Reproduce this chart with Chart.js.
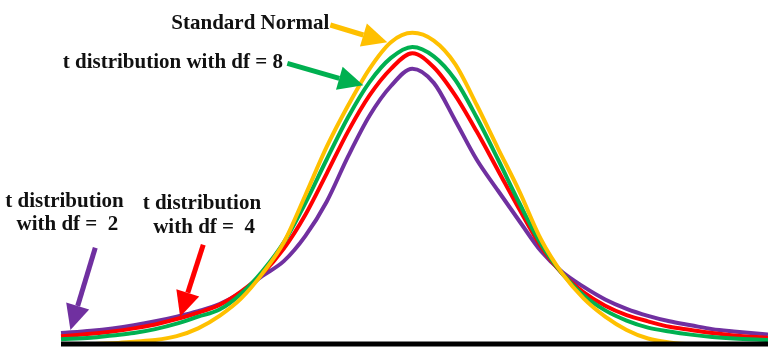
<!DOCTYPE html>
<html>
<head>
<meta charset="utf-8">
<script src="https://cdn.jsdelivr.net/npm/chart.js@4"></script>
<style>
  html, body { margin: 0; padding: 0; background: #fff; }
  #wrap { width: 768px; height: 355px; position: relative; }
</style>
</head>
<body>
<div id="wrap"><canvas id="tChart"></canvas></div>
<script>
// t values shared by all curves
const tValues = [-4.10, -3.75, -3.50, -3.25, -3.00, -2.75, -2.50, -2.25, -2.00, -1.75, -1.50, -1.25, -1.00, -0.75, -0.50, -0.25, 0,
  0.25, 0.50, 0.75, 1.00, 1.25, 1.50, 1.75, 2.00, 2.25, 2.50, 2.75, 3.00, 3.25, 3.50, 3.75, 4.15];

// Densities
const normalD = [0, 0, 0.001, 0.003, 0.005, 0.010, 0.020, 0.036, 0.058, 0.090, 0.130, 0.190, 0.252, 0.305, 0.352, 0.386, 0.398,
  0.388, 0.358, 0.306, 0.250, 0.195, 0.134, 0.090, 0.058, 0.035, 0.018, 0.007, 0.002, 0, 0, 0, 0];
const df8D = [0.006, 0.008, 0.011, 0.014, 0.019, 0.026, 0.035, 0.044, 0.064, 0.093, 0.130, 0.180, 0.236, 0.290, 0.335, 0.366, 0.380,
  0.368, 0.338, 0.290, 0.236, 0.180, 0.128, 0.090, 0.062, 0.043, 0.030, 0.021, 0.016, 0.012, 0.009, 0.007, 0.005];
const df4D = [0.010, 0.013, 0.016, 0.020, 0.025, 0.032, 0.040, 0.050, 0.067, 0.090, 0.122, 0.165, 0.218, 0.272, 0.318, 0.352, 0.372,
  0.354, 0.318, 0.272, 0.222, 0.172, 0.125, 0.090, 0.066, 0.049, 0.037, 0.029, 0.022, 0.018, 0.014, 0.011, 0.008];
const df2D = [0.014, 0.017, 0.020, 0.024, 0.029, 0.035, 0.042, 0.051, 0.066, 0.087, 0.106, 0.138, 0.182, 0.240, 0.292, 0.330, 0.352,
  0.334, 0.286, 0.236, 0.196, 0.157, 0.119, 0.092, 0.073, 0.057, 0.045, 0.036, 0.029, 0.024, 0.019, 0.016, 0.012];

// Text labels (centre x and baseline, in t / density units)
const labelLines = ["Standard Normal", "t distribution with df = 8", "t distribution", "with df =  2", "t distribution", "with df =  4"];
const labelT = [-1.89, -2.795, -4.06, -4.025, -2.456, -2.43];
const labelD = [0.403, 0.353, 0.175, 0.146, 0.173, 0.142];

// Arrows: start and tip, in t / density units
const arrowColors = ["#FFC000", "#00B050", "#7030A0", "#FF0000"];
const arrowFrom = [[-0.957, 0.408], [-1.459, 0.359], [-3.70, 0.123], [-2.44, 0.127]];
const arrowTo = [[-0.292, 0.386], [-0.572, 0.331], [-3.99, 0.018], [-2.71, 0.035]];

const curve = (label, ds, color) => ({
  label: label,
  data: tValues.map((t, i) => ({ x: t, y: ds[i] })),
  borderColor: color,
  borderWidth: 4,
  pointRadius: 0,
  cubicInterpolationMode: "monotone",
  fill: false,
  clip: false,
});

// Draw labels and arrows on top of the curves
const annotationPlugin = {
  id: "annotations",
  afterDatasetsDraw(chart) {
    const { ctx, scales: { x, y } } = chart;
    ctx.save();

    arrowColors.forEach((color, i) => {
      const x1 = x.getPixelForValue(arrowFrom[i][0]);
      const y1 = y.getPixelForValue(arrowFrom[i][1]);
      const x2 = x.getPixelForValue(arrowTo[i][0]);
      const y2 = y.getPixelForValue(arrowTo[i][1]);
      const ang = Math.atan2(y2 - y1, x2 - x1);
      const headLen = 25;
      const headW = 12;
      const bx = x2 - headLen * Math.cos(ang);
      const by = y2 - headLen * Math.sin(ang);

      ctx.strokeStyle = color;
      ctx.lineWidth = 5;
      ctx.beginPath();
      ctx.moveTo(x1, y1);
      ctx.lineTo(bx, by);
      ctx.stroke();

      ctx.fillStyle = color;
      ctx.beginPath();
      ctx.moveTo(x2, y2);
      ctx.lineTo(bx + headW * Math.sin(ang), by - headW * Math.cos(ang));
      ctx.lineTo(bx - headW * Math.sin(ang), by + headW * Math.cos(ang));
      ctx.closePath();
      ctx.fill();
    });

    ctx.fillStyle = "#111";
    ctx.font = "bold 21px 'Liberation Serif'";
    ctx.textAlign = "center";
    ctx.textBaseline = "alphabetic";
    labelLines.forEach((text, i) => {
      ctx.fillText(text, x.getPixelForValue(labelT[i]), y.getPixelForValue(labelD[i]));
    });

    ctx.restore();
  },
};

const ctx = document.getElementById("tChart").getContext("2d");

const chart = new Chart(ctx, {
  type: "line",
  data: {
    datasets: [
      {
        label: "baseline",
        data: [{ x: -4.10, y: 0 }, { x: 4.15, y: 0 }],
        borderColor: "#000",
        borderWidth: 5,
        pointRadius: 0,
        clip: false,
      },
      curve("Standard Normal", normalD, "#FFC000"),
      curve("df = 8", df8D, "#00B050"),
      curve("df = 4", df4D, "#FF0000"),
      curve("df = 2", df2D, "#7030A0"),
    ],
  },
  options: {
    responsive: true,
    maintainAspectRatio: false,
    animation: false,
    layout: {
      padding: { left: 61, right: 0, top: 0, bottom: 11 },
    },
    scales: {
      x: { type: "linear", min: -4.10, max: 4.15, display: false },
      y: { type: "linear", min: 0, max: 0.44, display: false },
    },
    plugins: {
      legend: { display: false },
      tooltip: { enabled: false },
    },
  },
  plugins: [annotationPlugin],
});
</script>
</body>
</html>
